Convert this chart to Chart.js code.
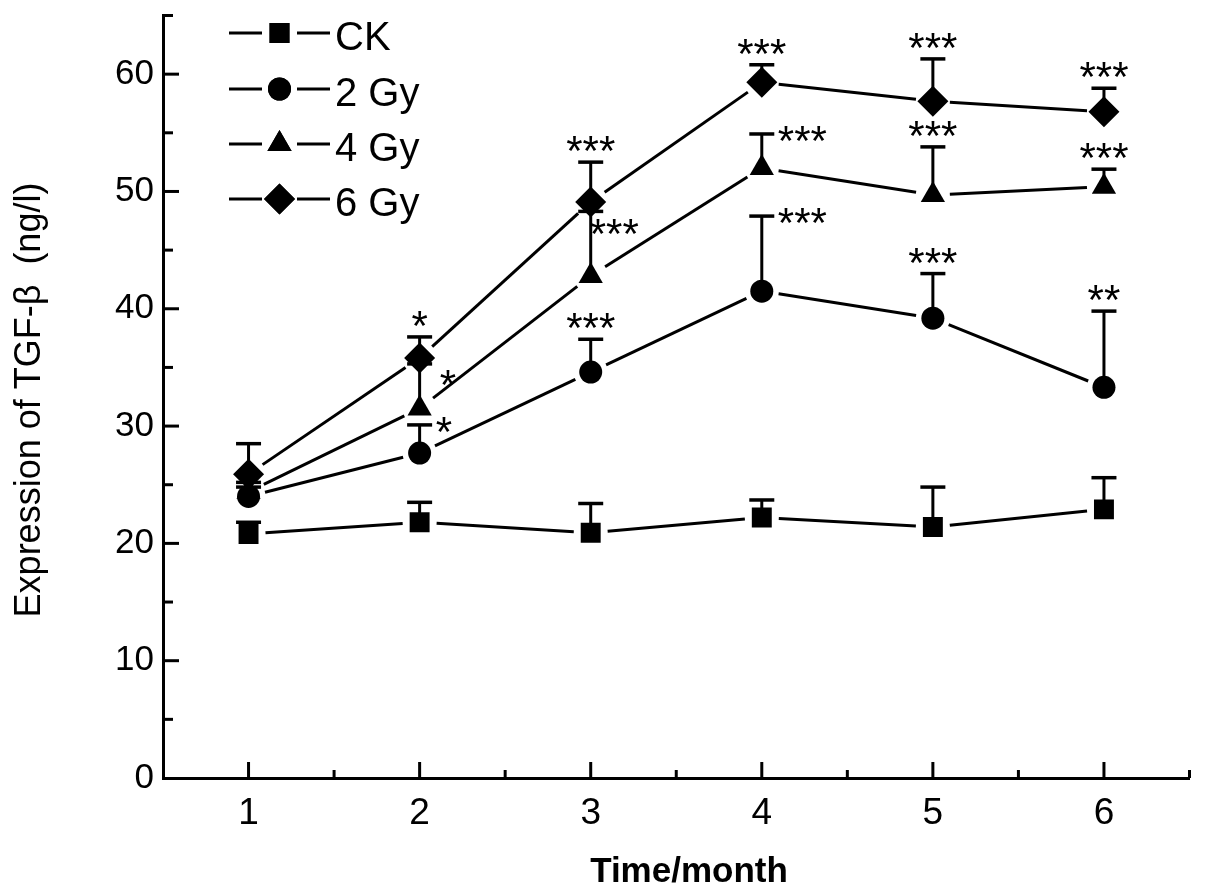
<!DOCTYPE html>
<html>
<head>
<meta charset="utf-8">
<script src="https://cdn.jsdelivr.net/npm/chart.js@4.4.1/dist/chart.umd.min.js"></script>
<style>
html,body{margin:0;padding:0;background:#fff;}
canvas{display:block;}
</style>
</head>
<body>
<canvas id="c" width="1205" height="893"></canvas>
<script>
// ---------- data ----------
const months = [1, 2, 3, 4, 5, 6];
const xTickLabels = ['1', '2', '3', '4', '5', '6'];
const yTickValues = [0, 10, 20, 30, 40, 50, 60];
const seriesNames = ['CK', '2 Gy', '4 Gy', '6 Gy'];

const ckValues  = [20.8, 21.8, 20.9, 22.2, 21.4, 22.9];
const ckErrors  = [1.0, 1.7, 2.5, 1.5, 3.4, 2.7];
const gy2Values = [24.0, 27.7, 34.6, 41.5, 39.2, 33.3];
const gy2Errors = [0.8, 2.4, 2.8, 6.4, 3.8, 6.5];
const gy4Values = [24.4, 31.5, 42.8, 52.0, 49.7, 50.4];
const gy4Errors = [0.8, 3.8, 5.5, 2.9, 4.1, 1.5];
const gy6Values = [25.9, 35.8, 49.1, 59.3, 57.7, 56.8];
const gy6Errors = [2.6, 1.8, 3.4, 1.5, 3.6, 2.0];

const ckMarks  = ['', '', '', '', '', ''];
const gy2Marks = ['', '*', '***', '***', '***', '**'];
const gy4Marks = ['', '*', '***', '***', '***', '***'];
const gy6Marks = ['', '*', '***', '***', '***', '***'];
const ckMarkSide  = ['', '', '', '', '', ''];
const gy2MarkSide = ['', 'right', 'above', 'right', 'above', 'above'];
const gy4MarkSide = ['', 'rightLow', 'under', 'right', 'above', 'above'];
const gy6MarkSide = ['', 'above', 'above', 'above', 'above', 'above'];

const xAxisTitle = 'Time/month';
const yAxisTitle = 'Expression of TGF-\u03B2  (ng/l)';

// ---------- styles ----------
const FONT = '"Liberation Sans", Arial, Helvetica, sans-serif';
const LINE_GAP = 17;

function toXY(values) { return months.map((m, j) => ({ x: m, y: values[j] })); }

const datasets = [
  { label: seriesNames[0], data: toXY(ckValues),  errors: ckErrors,  marks: ckMarks,  sides: ckMarkSide,  pointStyle: 'rect',     pointRadius: 14.1 },
  { label: seriesNames[1], data: toXY(gy2Values), errors: gy2Errors, marks: gy2Marks, sides: gy2MarkSide, pointStyle: 'circle',   pointRadius: 11.5 },
  { label: seriesNames[2], data: toXY(gy4Values), errors: gy4Errors, marks: gy4Marks, sides: gy4MarkSide, pointStyle: 'triangle', pointRadius: 14 },
  { label: seriesNames[3], data: toXY(gy6Values), errors: gy6Errors, marks: gy6Marks, sides: gy6MarkSide, pointStyle: 'rectRot',  pointRadius: 15.5 }
].map(d => Object.assign({
  showLine: false,
  pointBackgroundColor: '#000',
  pointBorderColor: '#000',
  pointBorderWidth: 0,
  pointHoverRadius: d.pointRadius,
  borderColor: '#000',
  backgroundColor: '#000'
}, d));

function drawMarker(ctx, style, radius, x, y) {
  ctx.fillStyle = '#000';
  if (Chart.helpers && Chart.helpers.drawPoint) {
    Chart.helpers.drawPoint(ctx, { pointStyle: style, rotation: 0, radius: radius, borderWidth: 0 }, x, y);
    ctx.fill();
    return;
  }
  ctx.beginPath();
  if (style === 'circle') ctx.arc(x, y, radius, 0, Math.PI * 2);
  else if (style === 'rect') { const s = radius * Math.SQRT1_2; ctx.rect(x - s, y - s, 2 * s, 2 * s); }
  else if (style === 'triangle') { ctx.moveTo(x, y - radius); ctx.lineTo(x + radius * 0.866, y + radius / 2); ctx.lineTo(x - radius * 0.866, y + radius / 2); ctx.closePath(); }
  else { ctx.moveTo(x, y - radius); ctx.lineTo(x + radius, y); ctx.lineTo(x, y + radius); ctx.lineTo(x - radius, y); ctx.closePath(); }
  ctx.fill();
}

function zeroPad(s) { s.paddingTop = 0; s.paddingBottom = 0; s.paddingLeft = 0; s.paddingRight = 0; }

const customDraw = {
  id: 'customDraw',
  beforeDatasetsDraw(chart) {
    const ctx = chart.ctx;
    ctx.save();
    ctx.strokeStyle = '#000';
    ctx.lineWidth = 3;
    chart.data.datasets.forEach((ds, i) => {
      const pts = chart.getDatasetMeta(i).data;
      for (let j = 0; j < pts.length - 1; j++) {
        const a = pts[j], b = pts[j + 1];
        const dx = b.x - a.x, dy = b.y - a.y, len = Math.hypot(dx, dy);
        if (len <= 2 * LINE_GAP) continue;
        const ux = dx / len, uy = dy / len;
        ctx.beginPath();
        ctx.moveTo(a.x + ux * LINE_GAP, a.y + uy * LINE_GAP);
        ctx.lineTo(b.x - ux * LINE_GAP, b.y - uy * LINE_GAP);
        ctx.stroke();
      }
    });
    ctx.restore();
  },
  afterDatasetsDraw(chart) {
    const ctx = chart.ctx;
    const ys = chart.scales.y;
    ctx.save();
    ctx.strokeStyle = '#000';
    ctx.fillStyle = '#000';
    chart.data.datasets.forEach((ds, i) => {
      const pts = chart.getDatasetMeta(i).data;
      pts.forEach((p, j) => {
        const v = ds.data[j].y;
        const capY = ys.getPixelForValue(v + ds.errors[j]);
        ctx.lineWidth = 3;
        ctx.beginPath();
        ctx.moveTo(p.x, p.y);
        ctx.lineTo(p.x, capY);
        ctx.stroke();
        ctx.lineWidth = 3.5;
        ctx.beginPath();
        ctx.moveTo(p.x - 12.5, capY);
        ctx.lineTo(p.x + 12.5, capY);
        ctx.stroke();
        const mark = ds.marks[j];
        if (mark) {
          const fs = 42;
          ctx.font = fs + 'px ' + FONT;
          ctx.textBaseline = 'alphabetic';
          const inkOff = 0.549 * fs;
          const side = ds.sides[j];
          let tx, cy;
          if (side === 'above') { ctx.textAlign = 'center'; tx = p.x; cy = capY - 20; }
          else if (side === 'right') { ctx.textAlign = 'left'; tx = p.x + 16; cy = capY - 2; }
          else if (side === 'rightLow') { ctx.textAlign = 'left'; tx = p.x + 20; cy = capY + 12; }
          else { ctx.textAlign = 'left'; tx = p.x - 1; cy = capY + 14; }
          ctx.fillText(mark, tx, cy + inkOff);
        }
      });
    });
    ctx.restore();
  },
  afterDraw(chart) {
    const ctx = chart.ctx;
    const xs = chart.scales.x, ys = chart.scales.y;
    const area = chart.chartArea;
    ctx.save();
    ctx.strokeStyle = '#000';
    ctx.lineWidth = 3;
    // inward ticks on y axis
    for (let v = ys.min; v <= ys.max + 1e-9; v += 5) {
      const y = ys.getPixelForValue(v);
      const major = yTickValues.indexOf(v) >= 0;
      if (v === ys.min) continue;
      ctx.beginPath();
      ctx.moveTo(area.left, y);
      ctx.lineTo(area.left + (major ? 16 : 10), y);
      ctx.stroke();
    }
    // inward ticks on x axis
    for (let v = xs.min + 0.5; v <= xs.max + 1e-9; v += 0.5) {
      const x = xs.getPixelForValue(v);
      const major = months.indexOf(v) >= 0;
      ctx.beginPath();
      ctx.moveTo(x, area.bottom);
      ctx.lineTo(x, area.bottom - (major ? 16 : 8));
      ctx.stroke();
    }
    // legend
    const legendRows = [33, 89, 144, 199];
    chart.data.datasets.forEach((ds, i) => {
      const y = legendRows[i];
      ctx.lineWidth = 3;
      ctx.beginPath();
      ctx.moveTo(229, y); ctx.lineTo(262, y);
      ctx.moveTo(297, y); ctx.lineTo(330, y);
      ctx.stroke();
      drawMarker(ctx, ds.pointStyle, ds.pointRadius, 279.5, y);
      ctx.fillStyle = '#000';
      ctx.font = '40px ' + FONT;
      ctx.textAlign = 'left';
      ctx.textBaseline = 'alphabetic';
      ctx.fillText(ds.label, 335, y + 17);
    });
    // axis titles
    ctx.fillStyle = '#000';
    ctx.font = 'bold 35px ' + FONT;
    ctx.textAlign = 'center';
    ctx.textBaseline = 'alphabetic';
    ctx.fillText(xAxisTitle, 689, 881.5);
    ctx.save();
    ctx.translate(39.5, 400);
    ctx.rotate(-Math.PI / 2);
    ctx.font = '36px ' + FONT;
    ctx.fillText(yAxisTitle, 0, 0);
    ctx.restore();
    ctx.restore();
  }
};

new Chart(document.getElementById('c').getContext('2d'), {
  type: 'line',
  data: { datasets: datasets },
  options: {
    responsive: false,
    animation: false,
    devicePixelRatio: 1,
    layout: { padding: { top: 13, right: 13, left: 0, bottom: 0 } },
    plugins: { legend: { display: false }, tooltip: { enabled: false } },
    scales: {
      x: {
        type: 'linear', min: 0.5, max: 6.5,
        afterBuildTicks: s => { s.ticks = months.map(v => ({ value: v })); },
        afterFit: s => { s.height = 115; zeroPad(s); },
        ticks: {
          callback: (v, i) => xTickLabels[i],
          color: '#000', font: { family: FONT, size: 37 }, padding: 14,
          maxRotation: 0, autoSkip: false
        },
        grid: { display: false, drawTicks: false },
        border: { display: true, color: '#000', width: 3 }
      },
      y: {
        type: 'linear', min: 0, max: 65,
        afterBuildTicks: s => { s.ticks = yTickValues.map(v => ({ value: v })); },
        afterFit: s => { s.width = 163; zeroPad(s); },
        ticks: {
          callback: v => String(v),
          color: '#000', font: { family: FONT, size: 35 }, padding: 9,
          autoSkip: false
        },
        grid: { display: false, drawTicks: false },
        border: { display: true, color: '#000', width: 3 }
      }
    }
  },
  plugins: [customDraw]
});
</script>
</body>
</html>
